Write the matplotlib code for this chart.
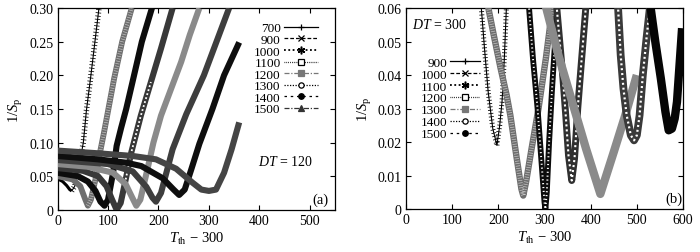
import matplotlib
matplotlib.use('Agg')
import matplotlib.pyplot as plt
from matplotlib.lines import Line2D
import numpy as np

plt.rcParams['font.family'] = ['Liberation Serif', 'DejaVu Serif']
plt.rcParams['mathtext.fontset'] = 'custom'
plt.rcParams['mathtext.rm'] = 'Liberation Serif'
plt.rcParams['mathtext.it'] = 'Liberation Serif:italic'

# ---------------- panel (a): DT = 120 ----------------
labels_a = ['700', '900', '1000', '1100', '1200', '1300', '1400', '1500']
a700_x = [0, 10, 18, 24, 28, 34, 40, 45, 51, 57, 66, 74, 82]
a700_y = [0.046, 0.042, 0.036, 0.030, 0.028, 0.035, 0.055, 0.075, 0.100, 0.147, 0.200, 0.250, 0.300]
a900_x = [0, 30, 45, 55, 60, 66, 75, 84, 92, 100, 112, 128, 147]
a900_y = [0.050, 0.045, 0.035, 0.015, 0.006, 0.015, 0.045, 0.085, 0.115, 0.147, 0.195, 0.250, 0.300]
a1000_x = [0, 40, 60, 75, 85, 93, 100, 110, 117, 126, 136, 150, 167, 187]
a1000_y = [0.055, 0.050, 0.042, 0.028, 0.012, 0.006, 0.015, 0.055, 0.095, 0.122, 0.150, 0.195, 0.250, 0.300]
a1100_x = [0, 50, 80, 97, 108, 117, 125, 135, 146, 165, 185, 205, 228]
a1100_y = [0.062, 0.058, 0.050, 0.035, 0.015, 0.000, 0.010, 0.045, 0.085, 0.140, 0.190, 0.240, 0.300]
a1200_x = [0, 60, 110, 135, 148, 156, 164, 178, 190, 205, 225, 245, 262, 281]
a1200_y = [0.068, 0.064, 0.055, 0.038, 0.018, 0.006, 0.015, 0.060, 0.100, 0.140, 0.180, 0.220, 0.260, 0.300]
a1300_x = [0, 100, 149, 176, 188, 195, 205, 228, 255, 290, 315, 340]
a1300_y = [0.074, 0.068, 0.057, 0.034, 0.018, 0.012, 0.025, 0.090, 0.142, 0.200, 0.250, 0.300]
a1400_x = [0, 80, 136, 166, 208, 230, 241, 252, 265, 281, 307, 330, 360]
a1400_y = [0.080, 0.075, 0.070, 0.065, 0.047, 0.030, 0.022, 0.030, 0.060, 0.098, 0.150, 0.200, 0.249]
a1500_x = [0, 80, 149, 195, 235, 268, 285, 300, 314, 330, 345, 360]
a1500_y = [0.088, 0.084, 0.080, 0.075, 0.061, 0.040, 0.030, 0.028, 0.030, 0.055, 0.090, 0.130]

# ---------------- panel (b): DT = 300 ----------------
labels_b = ['900', '1000', '1100', '1200', '1300', '1400', '1500']
b900_x = [162, 170, 178, 188, 197, 203, 208, 213, 218]
b900_y = [0.062, 0.048, 0.035, 0.024, 0.019, 0.025, 0.032, 0.045, 0.062]
b1000_x = [177, 190, 205, 218, 226, 240, 250, 254, 260, 272, 287, 303, 318]
b1000_y = [0.061, 0.052, 0.042, 0.034, 0.028, 0.015, 0.006, 0.004, 0.008, 0.018, 0.030, 0.045, 0.061]
b1100_x = [266, 275, 285, 293, 300, 302, 305, 310, 316, 322, 328]
b1100_y = [0.061, 0.045, 0.030, 0.015, 0.002, 0.000, 0.005, 0.020, 0.035, 0.048, 0.061]
b1200_x = [326, 333, 340, 346, 352, 359, 365, 372, 380, 390]
b1200_y = [0.061, 0.050, 0.039, 0.028, 0.016, 0.0085, 0.015, 0.030, 0.044, 0.061]
b1300_x = [303, 330, 360, 390, 421, 450, 475, 500]
b1300_y = [0.0605, 0.046, 0.032, 0.018, 0.0045, 0.017, 0.028, 0.040]
b1400_x = [459, 465, 471, 478, 487, 494, 500, 506, 513, 521, 529]
b1400_y = [0.061, 0.046, 0.036, 0.028, 0.022, 0.0205, 0.022, 0.028, 0.040, 0.051, 0.061]
b1500_x = [529, 540, 552, 562, 569, 576, 582, 587, 592, 598]
b1500_y = [0.061, 0.050, 0.039, 0.029, 0.0235, 0.024, 0.027, 0.032, 0.042, 0.054]

fig = plt.figure(figsize=(7.0, 2.53), dpi=100)
ax_a = fig.add_axes([0.0823, 0.167, 0.3963, 0.797])
ax_b = fig.add_axes([0.580, 0.170, 0.3957, 0.794])

TICK_FS = 10
LEG_FS = 9.5


def base(ax, x, y, color, lw, z):
    ax.plot(x, y, color=color, lw=lw, solid_capstyle='butt', solid_joinstyle='round', zorder=z)


def hatch(ax, x, y, color, lw, dashes, z):
    ax.plot(x, y, color=color, lw=lw, dashes=dashes, dash_capstyle='butt', zorder=z)


def split(x, y):
    k = int(np.argmin(y))
    return (x[:k + 1], y[:k + 1]), (x[k:], y[k:])


# ---- draw panel (a)
(p1, r1) = split(a700_x, a700_y)
base(ax_a, *p1, 'black', 2.2, 2)
base(ax_a, *r1, 'black', 0.8, 2)
hatch(ax_a, *r1, 'black', 4.0, (0.14, 0.45), 2.1)

(p2, r2) = split(a900_x, a900_y)
base(ax_a, a900_x, a900_y, '#6e6e6e', 4.2, 3)
hatch(ax_a, *r2, '#c8c8c8', 3.0, (0.15, 0.45), 3.1)

base(ax_a, a1000_x, a1000_y, '#0c0c0c', 4.4, 4)

(p4, r4) = split(a1100_x, a1100_y)
base(ax_a, a1100_x, a1100_y, '#383838', 4.4, 5)
hatch(ax_a, r4[0][2:6], r4[1][2:6], 'white', 1.3, (1.0, 1.3), 5.1)

base(ax_a, a1200_x, a1200_y, '#8a8a8a', 4.4, 6)
base(ax_a, a1300_x, a1300_y, '#3e3e3e', 4.4, 7)
base(ax_a, a1400_x, a1400_y, '#0e0e0e', 4.4, 8)
base(ax_a, a1500_x, a1500_y, '#454545', 4.4, 9)

# ---- draw panel (b)
base(ax_b, b900_x, b900_y, 'black', 0.8, 2)
hatch(ax_b, b900_x, b900_y, 'black', 3.6, (0.16, 0.5), 2.1)

base(ax_b, b1000_x, b1000_y, '#6e6e6e', 4.6, 3)
hatch(ax_b, b1000_x, b1000_y, '#c8c8c8', 3.2, (0.15, 0.4), 3.1)

base(ax_b, b1100_x, b1100_y, '#0c0c0c', 4.2, 4)
hatch(ax_b, b1100_x, b1100_y, 'white', 1.4, (0.6, 1.4), 4.1)

base(ax_b, b1200_x, b1200_y, '#303030', 5.0, 5)
hatch(ax_b, b1200_x, b1200_y, 'white', 1.5, (1.0, 1.4), 5.1)

base(ax_b, b1300_x, b1300_y, '#8a8a8a', 6.0, 6)

base(ax_b, b1400_x, b1400_y, '#3a3a3a', 5.6, 7)
hatch(ax_b, b1400_x, b1400_y, 'white', 1.6, (0.9, 1.3), 7.1)

base(ax_b, b1500_x, b1500_y, '#050505', 6.0, 8)

# ---- legends (proxy handles in reference style)
def H(ls, marker, color='black', mfc=None, lw=0.9, ms=4.0, mew=0.9):
    return Line2D([], [], color=color, lw=lw, ls=ls, marker=marker, ms=ms,
                  mfc=mfc if mfc is not None else color, mec=color, mew=mew)

ast = (6, 2, 0)
handles_a = [
    H('-', '+', ms=5),
    H((0, (3, 1.6)), 'x'),
    H((0, (1, 1.4)), ast, lw=1.3, ms=5.5, mew=1.1),
    H((0, (0.6, 0.9)), 's', mfc='white', ms=3.8),
    H((0, (4, 1.4, 1, 1.4)), 's', color='#777777', ms=3.8),
    H((0, (1, 1.2)), 'o', mfc='white', ms=3.8),
    H((0, (2, 3)), 'o', ms=4),
    H((0, (4, 1.4, 1, 1.4)), '^', color='#333333', ms=4),
]
handles_b = [
    H('-', '+', ms=5),
    H((0, (3, 1.6)), 'x'),
    H((0, (1, 1.4)), ast, lw=1.3, ms=5.5, mew=1.1),
    H((0, (0.6, 0.9)), 's', mfc='white', ms=3.8),
    H((0, (4, 1.4, 1, 1.4)), 's', color='#777777', ms=3.8),
    H((0, (1, 1.2)), 'o', mfc='white', ms=3.8),
    H((0, (2, 3)), 'o', ms=4),
]

leg_a = ax_a.legend(handles_a, labels_a, loc='upper right', bbox_to_anchor=(0.94, 0.93),
                    frameon=False, markerfirst=False, fontsize=LEG_FS, handlelength=2.6,
                    handletextpad=0.25, labelspacing=-0.05, borderpad=0, borderaxespad=0)
leg_b = ax_b.legend(handles_b, labels_b, loc='upper right', bbox_to_anchor=(0.268, 0.76),
                    frameon=False, markerfirst=False, fontsize=LEG_FS, handlelength=2.3,
                    handletextpad=0.2, labelspacing=-0.02, borderpad=0, borderaxespad=0)
for leg in (leg_a, leg_b):
    for t in leg.get_texts():
        t.set_ha('right')

# ---- annotations
ax_a.text(452, 0.073, r'$DT$ = 120', ha='center', va='center', fontsize=10)
ax_a.text(521, 0.016, '(a)', ha='center', va='center', fontsize=10.5)
ax_b.text(72, 0.0552, r'$DT$ = 300', ha='center', va='center', fontsize=10)
ax_b.text(580, 0.0032, '(b)', ha='center', va='center', fontsize=10.5)

# ---- axes cosmetics
ax_a.set_xlim(0, 550)
ax_a.set_ylim(0, 0.30)
ax_a.set_xticks([0, 100, 200, 300, 400, 500])
ax_a.set_yticks([0, 0.05, 0.10, 0.15, 0.20, 0.25, 0.30])
ax_a.set_yticklabels(['0', '0.05', '0.10', '0.15', '0.20', '0.25', '0.30'])

ax_b.set_xlim(0, 600)
ax_b.set_ylim(0, 0.06)
ax_b.set_xticks([0, 100, 200, 300, 400, 500, 600])
ax_b.set_yticks([0, 0.01, 0.02, 0.03, 0.04, 0.05, 0.06])
ax_b.set_yticklabels(['0', '0.01', '0.02', '0.03', '0.04', '0.05', '0.06'])

for ax in (ax_a, ax_b):
    ax.tick_params(direction='in', top=True, right=True, length=3.5, width=0.8,
                   labelsize=TICK_FS, pad=3)
    for s in ax.spines.values():
        s.set_linewidth(0.9)
    ax.set_xlabel(r'$T_{\rm th}$ $-$ 300', fontsize=10.5, labelpad=2)
    ax.set_ylabel(r'1/$S_{\rm p}$', fontsize=10.5, labelpad=3)

fig.savefig('out.png', dpi=100)
